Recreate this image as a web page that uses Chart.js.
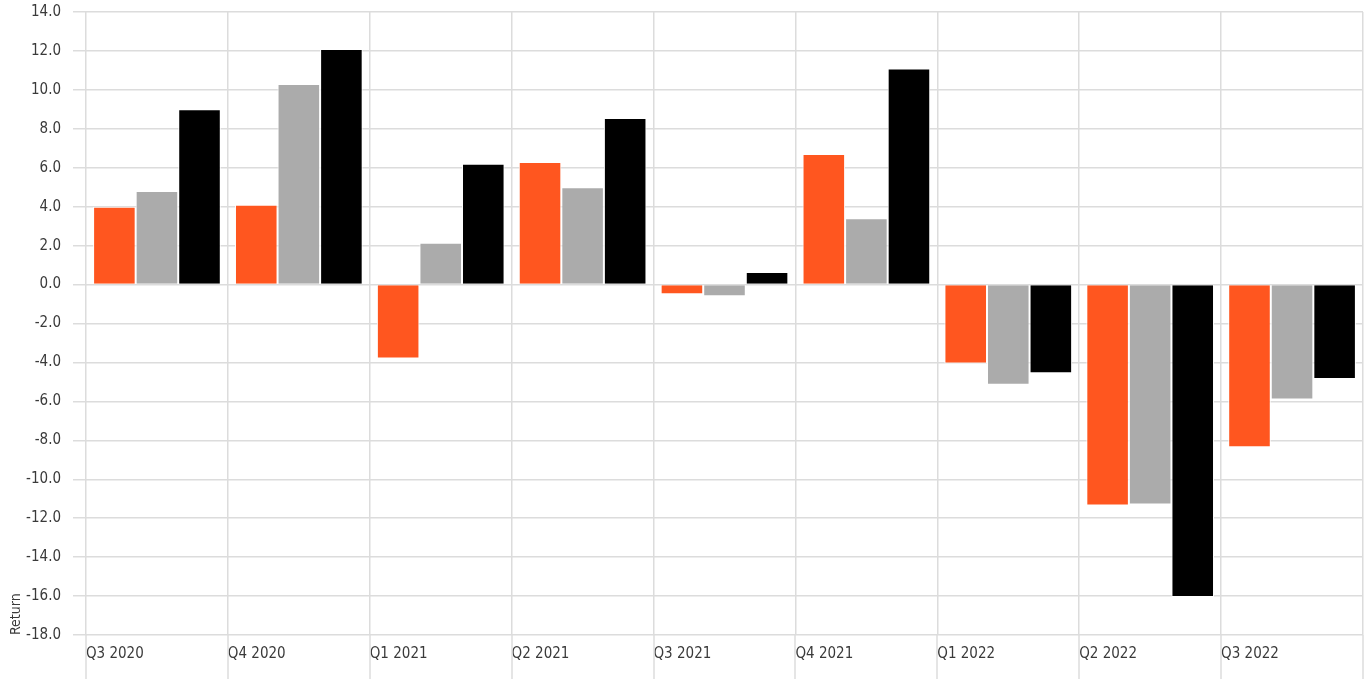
<!DOCTYPE html>
<html>
<head>
<meta charset="utf-8">
<script src="https://cdn.jsdelivr.net/npm/chart.js@4/dist/chart.umd.min.js"></script>
<style>
  html, body { margin: 0; padding: 0; background: #ffffff; }
  #wrap { width: 1372px; height: 679px; position: relative; }
</style>
</head>
<body>
<div id="wrap"><canvas id="chart"></canvas></div>
<script>
// Quarterly returns
const quarters = ['Q3 2020', 'Q4 2020', 'Q1 2021', 'Q2 2021', 'Q3 2021', 'Q4 2021', 'Q1 2022', 'Q2 2022', 'Q3 2022'];
const fundReturns     = [4.0, 4.1, -3.8, 6.3, -0.5, 6.7, -4.05, -11.35, -8.35];
const categoryReturns = [4.8, 10.3, 2.15, 5.0, -0.6, 3.4, -5.15, -11.3, -5.9];
const indexReturns    = [9.0, 12.1, 6.2, 8.55, 0.65, 11.1, -4.55, -16.05, -4.85];
const yMin = -18, yMax = 14, yStep = 2;

const FONT = '"DejaVu Sans Condensed", "DejaVu Sans", sans-serif';
const GRID = '#dcdcdc';
const TEXT = '#3a3a3a';

function barSet(label, data, color) {
  return {
    label, data,
    backgroundColor: color,
    borderColor: '#ffffff',
    borderWidth: 1,
    borderSkipped: 'start',
    barPercentage: 1.0,
    categoryPercentage: 0.9
  };
}

// Carries the category divider lines down past the plot area to the bottom edge
const dividerTails = {
  id: 'dividerTails',
  afterDraw(chart) {
    const { ctx, chartArea } = chart;
    const n = chart.data.labels.length;
    const step = (chartArea.right - chartArea.left) / n;
    ctx.save();
    ctx.strokeStyle = GRID;
    ctx.lineWidth = 1.5;
    for (let i = 0; i <= n; i++) {
      const x = Math.round(chartArea.left + i * step);
      ctx.beginPath();
      ctx.moveTo(x, chartArea.bottom);
      ctx.lineTo(x, chart.height);
      ctx.stroke();
    }
    ctx.restore();
  }
};

new Chart(document.getElementById('chart'), {
  type: 'bar',
  data: {
    labels: quarters,
    datasets: [
      barSet('Fund', fundReturns, '#ff561f'),
      barSet('Category', categoryReturns, '#ababab'),
      barSet('Index', indexReturns, '#000000')
    ]
  },
  plugins: [dividerTails],
  options: {
    responsive: true,
    maintainAspectRatio: false,
    animation: false,
    layout: { padding: { top: 0, right: 9, bottom: 6, left: 8 } },
    plugins: { legend: { display: false }, tooltip: { enabled: false } },
    scales: {
      x: {
        grid: { color: GRID, lineWidth: 1.5, offset: true, drawTicks: false },
        border: { display: false },
        ticks: {
          font: { family: FONT, size: 15 },
          color: TEXT,
          align: 'start',
          padding: 10,
          maxRotation: 0,
          autoSkip: false,
          labelOffset: -71
        }
      },
      y: {
        min: yMin, max: yMax,
        afterFit: scale => { scale.width = 78; scale.paddingTop = 12; },
        grid: { color: GRID, lineWidth: 1.5, tickLength: 13 },
        border: { display: false },
        ticks: {
          stepSize: yStep,
          font: { family: FONT, size: 15 },
          color: TEXT,
          padding: 12,
          callback: v => Number(v).toFixed(1)
        },
        title: {
          display: true,
          text: 'Return',
          align: 'start',
          font: { family: FONT, size: 14 },
          color: TEXT,
          padding: { top: 0, bottom: 0 }
        }
      }
    }
  }
});
</script>
</body>
</html>
